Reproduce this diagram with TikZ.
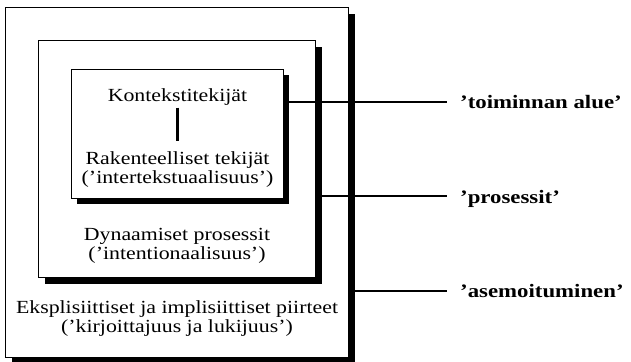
\documentclass[tikz,border=0pt]{standalone}
\usepackage{fontspec}
\setmainfont{Liberation Serif}[FakeStretch=1.18]
\newfontfamily\levelfont{Liberation Serif}[FakeStretch=1.2, Ligatures=TeX]
\usetikzlibrary{positioning, shadows}

\begin{document}
\begin{tikzpicture}[
    x=1pt, y=-1pt,
    box/.style={draw, line width=0.8pt, fill=white, inner sep=0pt, anchor=north west,
        drop shadow={shadow xshift=#1, shadow yshift=-#1, fill=black, opacity=1}},
    box/.default=6.5pt,
    txt/.style={font=\fontsize{18.5}{19.5}\selectfont, align=center, inner sep=0pt, anchor=base},
    levelname/.style={font=\fontsize{19}{20}\selectfont\levelfont\bfseries, anchor=base west, inner sep=0pt},
    link/.style={line width=1.1pt},
    stem/.style={line width=2.3pt}
]
\useasboundingbox (0,0) rectangle (631,361);

% nested frames, outermost first
\node[box, minimum width=343pt, minimum height=350pt] (outer) at (5,7) {};
\node[box, minimum width=277pt, minimum height=237pt] (middle) at (38,40) {};
\node[box=6pt, minimum width=212pt, minimum height=129pt] (inner) at (71,69) {};

% texts inside the frames (base = last line)
\node[txt] (konteksti) at (177.5,101.5) {Kontekstitekijät};
\node[txt] (rakenne) at (177.5,183.5) {Rakenteelliset tekijät\\('intertekstuaalisuus')};
\draw[stem] ([yshift=-2pt]konteksti.south) -- ([yshift=9.5pt]rakenne.north);

\node[txt] (dynaamiset) at (177,259.5) {Dynaamiset prosessit\\('intentionaalisuus')};
\node[txt] (piirteet) at (177,332.5) {Eksplisiittiset ja implisiittiset piirteet\\('kirjoittajuus ja lukijuus')};

% level names on the right
\node[levelname] (toiminta) at (460,108) {'toiminnan alue'};
\node[levelname] (prosessit) at (460,203) {'prosessit'};
\node[levelname] (asemo) at (460,297.5) {'asemoituminen'};

\draw[link] (inner.east |- 0,102) -- (447,102);
\draw[link] (middle.east |- 0,196) -- (447,196);
\draw[link] (outer.east |- 0,291) -- (447,291);

\end{tikzpicture}
\end{document}
